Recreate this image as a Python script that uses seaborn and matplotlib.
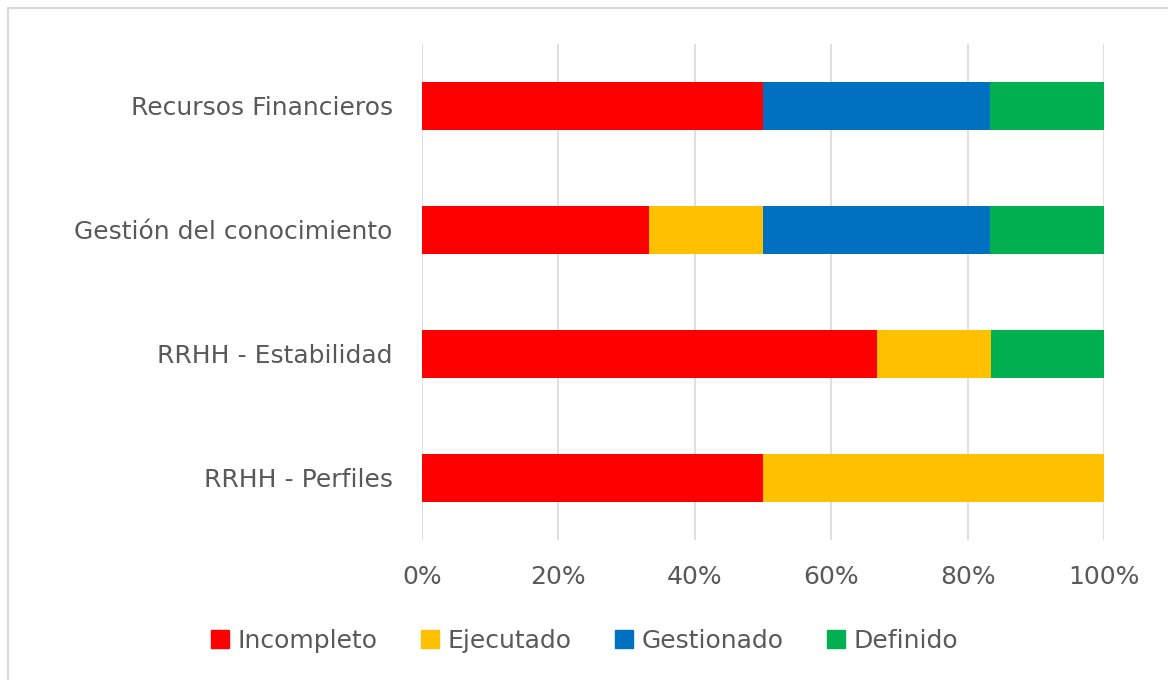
import numpy as np
import pandas as pd
import matplotlib
matplotlib.use("Agg")
import matplotlib.pyplot as plt
import seaborn as sns
from matplotlib.patches import Rectangle
from matplotlib.lines import Line2D
from matplotlib.ticker import PercentFormatter

# Data (share of items per level, in %)
categories = ["Recursos Financieros", "Gestión del conocimiento",
              "RRHH - Estabilidad", "RRHH - Perfiles"]
series = ["Incompleto", "Ejecutado", "Gestionado", "Definido"]
incompleto = [50.0, 33.3, 66.7, 50.0]
ejecutado = [0.0, 16.7, 16.7, 50.0]
gestionado = [33.3, 33.3, 0.0, 0.0]
definido = [16.7, 16.7, 16.6, 0.0]
colors = ["#ff0000", "#ffc000", "#0070c0", "#00b050"]

sns.set_style("white")
plt.rcParams['font.family'] = ['DejaVu Sans']

fig = plt.figure(figsize=(11.68, 6.8), dpi=100)
ax = fig.add_axes([0.3613, 0.2059, 0.5839, 0.7294])

#Stack by drawing cumulative totals from the back to the front.
values = np.array([incompleto, ejecutado, gestionado, definido])
cum = np.cumsum(values, axis=0)
for i in range(len(series) - 1, -1, -1):
    df = pd.DataFrame({"cat": categories, "val": cum[i]})
    sns.barplot(data=df, x="val", y="cat", orient="h", color=colors[i],
                saturation=1, width=0.39, ax=ax, linewidth=0)

ax.set_xlim(0, 100)
ax.set_ylim(3.5, -0.5)
ax.set_xticks(np.arange(0, 101, 20))
ax.xaxis.set_major_formatter(PercentFormatter(decimals=0))
ax.grid(axis="x", color="#d9d9d9", linewidth=1.2)
ax.set_axisbelow(True)
for s in ax.spines.values():
    s.set_visible(False)
ax.set_xlabel("")
ax.set_ylabel("")
ax.tick_params(axis="both", length=0, labelsize=18, labelcolor="#595959")
ax.tick_params(axis="y", pad=21)
ax.tick_params(axis="x", pad=18)

# Legend
handles = [Line2D([], [], marker="s", linestyle="", markersize=13,
                  markerfacecolor=c, markeredgecolor=c) for c in colors]
fig.legend(handles, series, loc="center", bbox_to_anchor=(0.5, 0.058),
           ncol=4, frameon=False, fontsize=18, labelcolor="#595959",
           handletextpad=0.3, columnspacing=1.7, handlelength=0.8)

# Chart frame
fig.patches.append(Rectangle((8 / 1168, -0.1), 1.2, 1 - 8 / 680 + 0.1,
                             transform=fig.transFigure, fill=False,
                             edgecolor="#d9d9d9", linewidth=1.5))

fig.savefig("out.png", dpi=100)
